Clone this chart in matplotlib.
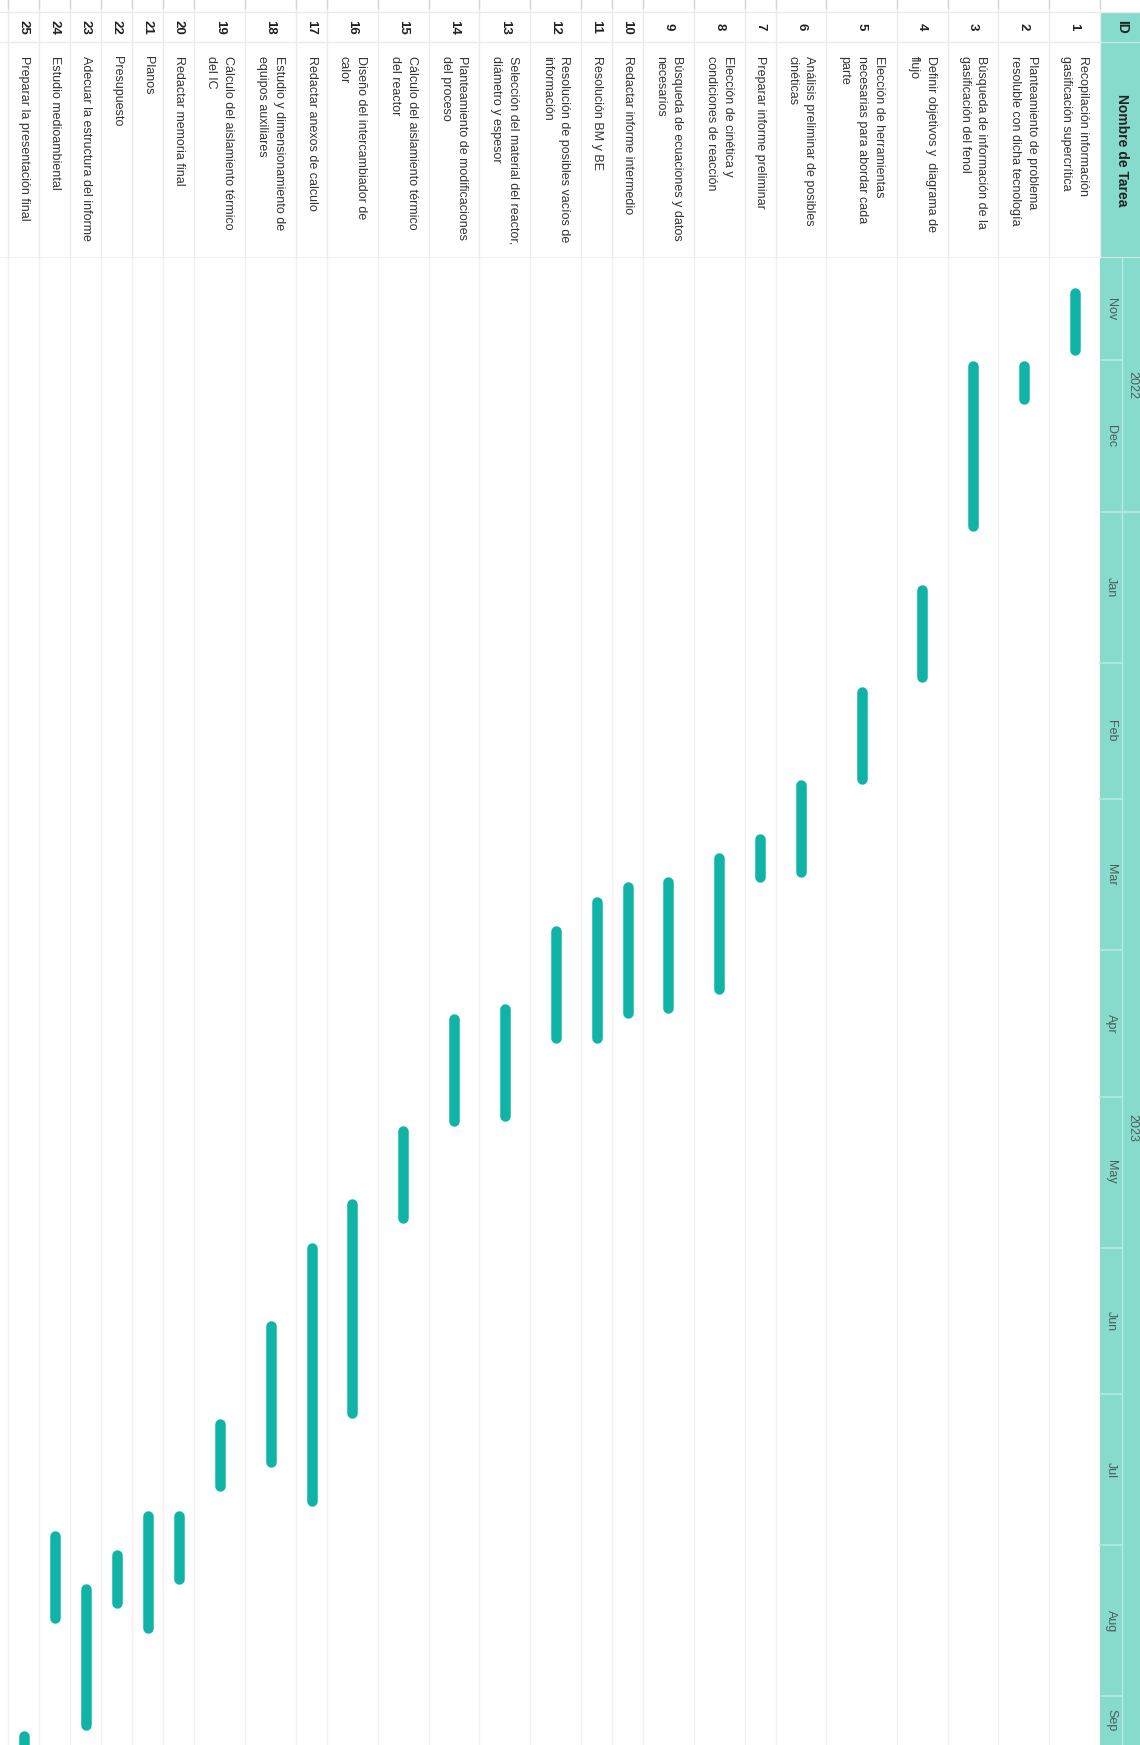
import matplotlib
matplotlib.use("Agg")
import matplotlib.pyplot as plt
import matplotlib.dates as mdates
import numpy as np
import pandas as pd
from matplotlib.patches import Rectangle

plt.rcParams["font.family"] = ["Liberation Sans", "DejaVu Sans"]

# ---------------------------------------------------------------------------
# Task data
# ---------------------------------------------------------------------------
task_ids = list(range(1, 26))

task_names = [
    "Recopilación información\ngasificación supercrítica",
    "Planteamiento de problema\nresoluble con dicha tecnología",
    "Búsqueda de información de la\ngasificación del fenol",
    "Definir objetivos y  diagrama de\nflujo",
    "Elección de herramientas\nnecesarias para abordar cada\nparte",
    "Análisis preliminar de posibles\ncinéticas",
    "Preparar informe preliminar",
    "Elección de cinética y\ncondiciones de reacción",
    "Búsqueda de ecuaciones y datos\nnecesarios",
    "Redactar informe intermedio",
    "Resolución BM y BE",
    "Resolución de posibles vacíos de\ninformación",
    "Selección del material del reactor,\ndiámetro y espesor",
    "Planteamiento de modificaciones\ndel proceso",
    "Cálculo del aislamiento térmico\ndel reactor",
    "Diseño del intercambiador de\ncalor",
    "Redactar anexos de calculo",
    "Estudio y dimensionamiento de\nequipos auxiliares",
    "Cálculo del aislamiento térmico\ndel IC",
    "Redactar memoria final",
    "Planos",
    "Presupuesto",
    "Adecuar la estructura del informe",
    "Estudio medioambiental",
    "Preparar la presentación final",
]

start_dates = [
    "2022-11-16", "2022-12-01", "2022-12-01", "2023-01-16", "2023-02-06",
    "2023-02-25", "2023-03-08", "2023-03-12", "2023-03-17", "2023-03-18",
    "2023-03-21", "2023-03-27", "2023-04-12", "2023-04-14", "2023-05-07",
    "2023-05-22", "2023-05-31", "2023-06-16", "2023-07-06", "2023-07-25",
    "2023-07-25", "2023-08-02", "2023-08-09", "2023-07-29", "2023-09-08",
]

# last working day of each task (inclusive)
finish_dates = [
    "2022-11-29", "2022-12-09", "2023-01-04", "2023-02-04", "2023-02-25",
    "2023-03-16", "2023-03-17", "2023-04-09", "2023-04-13", "2023-04-14",
    "2023-04-19", "2023-04-19", "2023-05-05", "2023-05-06", "2023-05-26",
    "2023-07-05", "2023-07-23", "2023-07-15", "2023-07-20", "2023-08-08",
    "2023-08-18", "2023-08-13", "2023-09-07", "2023-08-16", "2023-09-15",
]

view_start = "2022-11-10"
view_end = "2023-09-11"

# ---------------------------------------------------------------------------
# Style
# ---------------------------------------------------------------------------
BAR = "#10b4a7"
HEAD = "#86dbcd"
HEAD_LINE = "#b4ebe2"
GRID = "#ebebeb"
TEXT = "#333333"

W, H = 1140, 1745
TABLE_H = 258          # ID + name block (pixels, from top)
HEAD_X0, HEAD_X1 = 1100, 1140
MONTH_X1 = 1122
ROW_W = {1: 31.0, 2: 50.8, 3: 70.4}

fig = plt.figure(figsize=(W / 100, H / 100), dpi=100)
fig.patch.set_facecolor("white")

# row extents, right to left
n_lines = [name.count("\n") + 1 for name in task_names]
edges = [HEAD_X0]
for n in n_lines:
    edges.append(edges[-1] - ROW_W[n])
row_hi = np.array(edges[:-1])
row_lo = np.array(edges[1:])
row_mid = (row_hi + row_lo) / 2

# ---------------------------------------------------------------------------
# Table part (ID and task name)
# ---------------------------------------------------------------------------
tb = fig.add_axes([0, 1 - TABLE_H / H, 1, TABLE_H / H])
tb.set_xlim(0, W)
tb.set_ylim(TABLE_H, 0)
tb.axis("off")

tb.add_patch(Rectangle((HEAD_X0, 12), HEAD_X1 - HEAD_X0, TABLE_H - 12,
                       facecolor=HEAD, edgecolor="none"))
tb.plot([HEAD_X0, HEAD_X1], [42, 42], color=HEAD_LINE, lw=1)
tb.plot([0, HEAD_X0], [42, 42], color=GRID, lw=1)
tb.plot([0, W], [12, 12], color=GRID, lw=1)
tb.plot([0, W], [TABLE_H - 0.5, TABLE_H - 0.5], color=GRID, lw=1.2)
for x in list(row_lo) + [HEAD_X0]:
    tb.plot([x, x], [0, TABLE_H], color=GRID, lw=1)
    tb.plot([x, x], [0, 8], color="#d6d6d6", lw=1)

tb.text(1122, 27, "ID", rotation=270, ha="center", va="center",
        fontsize=10, fontweight="bold", color="#222222")
tb.text(1122, 150, "Nombre de Tarea", rotation=270, ha="center", va="center",
        fontsize=10, fontweight="bold", color="#222222")

for tid, name, xm in zip(task_ids, task_names, row_mid):
    tb.text(xm, 27, str(tid), rotation=270, ha="center", va="center",
            fontsize=9.5, fontweight="bold", color="#222222")
    tb.text(xm, 56, name, rotation=270, ha="center", va="top",
            multialignment="left", linespacing=1.55,
            fontsize=9, color=TEXT)

# ---------------------------------------------------------------------------
# Timeline part
# ---------------------------------------------------------------------------
ax = fig.add_axes([0, 0, 1, 1 - TABLE_H / H])
t0 = mdates.date2num(pd.Timestamp(view_start))
t1 = mdates.date2num(pd.Timestamp(view_end))
ax.set_xlim(0, W)
ax.set_ylim(t1, t0)
ax.axis("off")

for x in row_lo:
    ax.plot([x, x], [t0, t1], color="#f0f0f0", lw=1)

# header band with months and years
ax.add_patch(Rectangle((HEAD_X0, t0), HEAD_X1 - HEAD_X0, t1 - t0,
                       facecolor=HEAD, edgecolor="none"))
ax.plot([MONTH_X1, MONTH_X1], [t0, t1], color=HEAD_LINE, lw=1)

months = pd.date_range(pd.Timestamp(view_start).to_period("M").to_timestamp(),
                       view_end, freq="MS")
for m in months:
    mn = mdates.date2num(m)
    a = max(mn, t0)
    b = min(mdates.date2num(m + pd.offsets.MonthBegin(1)), t1)
    if mn > t0:
        x_end = HEAD_X1 if m.month == 1 else MONTH_X1
        ax.plot([HEAD_X0, x_end], [mn, mn], color=HEAD_LINE, lw=1.2)
    ax.text((HEAD_X0 + MONTH_X1) / 2, (a + b) / 2, m.strftime("%b"),
            rotation=270, ha="center", va="center", fontsize=9,
            color="#4d5c59")

for yr in sorted(set(months.year)):
    a = max(mdates.date2num(pd.Timestamp(f"{yr}-01-01")), t0)
    b = min(mdates.date2num(pd.Timestamp(f"{yr + 1}-01-01")), t1)
    ax.text((MONTH_X1 + HEAD_X1) / 2 + 1, (a + b) / 2, str(yr),
            rotation=270, ha="center", va="center", fontsize=9,
            color="#4d5c59")

# bars: rounded caps, so pull the ends in by half the bar thickness
bar_px = 10.5
px_per_day = (H - TABLE_H) / (t1 - t0)
inset = (bar_px / 2) / px_per_day
starts = mdates.date2num(pd.to_datetime(start_dates))
ends = mdates.date2num(pd.to_datetime(finish_dates) + pd.Timedelta(days=1))
bars = ax.vlines(row_mid, starts + inset, ends - inset, colors=BAR,
                 linewidth=bar_px * 72 / 100)
bars.set_capstyle("round")

fig.savefig("out.png", dpi=100, facecolor="white")
